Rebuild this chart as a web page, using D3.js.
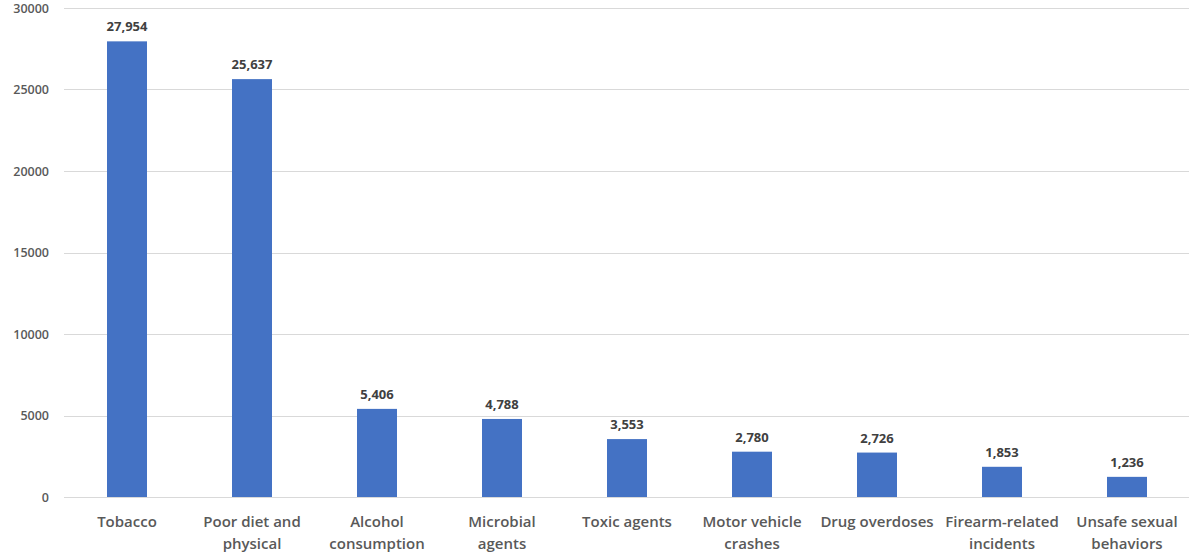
<!DOCTYPE html>
<html><head><meta charset="utf-8">
<script src="https://cdn.jsdelivr.net/npm/d3@7"></script>
<style>body{margin:0;background:#fff}svg{display:block}</style>
</head><body><svg id="c" width="1189" height="557"></svg>
<script>
const categories = ["Tobacco","Poor diet and physical","Alcohol consumption","Microbial agents","Toxic agents","Motor vehicle crashes","Drug overdoses","Firearm-related incidents","Unsafe sexual behaviors"];
const categoryLines = [["Tobacco"],["Poor diet and","physical"],["Alcohol","consumption"],["Microbial","agents"],["Toxic agents"],["Motor vehicle","crashes"],["Drug overdoses"],["Firearm-related","incidents"],["Unsafe sexual","behaviors"]];
const values = [27954,25637,5406,4788,3553,2780,2726,1853,1236];
const yTicks = [0,5000,10000,15000,20000,25000,30000];

const svg = d3.select("#c");
const font = "'Open Sans', 'Liberation Sans', sans-serif";
const x = d3.scaleBand().domain(categories).range([64.5,1189.5]).paddingInner(0.68).paddingOuter(0.34);
const y = d3.scaleLinear().domain([0,30000]).range([497,8]);

const g = svg.append("g");
g.selectAll("line.grid").data(yTicks).join("line")
 .attr("x1",64).attr("x2",1189)
 .attr("y1",d=>Math.round(y(d))+0.5).attr("y2",d=>Math.round(y(d))+0.5)
 .attr("stroke","#d9d9d9").attr("stroke-width",1);

const yAxis = d3.axisLeft(y).tickValues(yTicks).tickSize(0).tickPadding(0).tickFormat(d3.format("d"));
const ya = svg.append("g").attr("transform","translate(49,0)").call(yAxis);
ya.select(".domain").remove();
ya.selectAll("text").attr("font-family",font).attr("font-size",12.5).attr("font-weight",600).attr("fill","#595959");

g.selectAll("rect.bar").data(values).join("rect")
 .attr("x",(d,i)=>x(categories[i])).attr("width",x.bandwidth())
 .attr("y",d=>y(d)).attr("height",d=>y(0)-y(d)).attr("fill","#4472C4");

const fmt = d3.format(",");
g.selectAll("text.val").data(values).join("text")
 .attr("x",(d,i)=>x(categories[i])+x.bandwidth()/2).attr("y",d=>y(d)-10)
 .attr("text-anchor","middle").attr("font-family",font).attr("font-size",13).attr("font-weight",700).attr("fill","#404040")
 .text(d=>fmt(d));

const xa = svg.append("g");
categories.forEach((c,i)=>{
  const cx = x(c)+x.bandwidth()/2;
  const t = xa.append("text").attr("x",cx).attr("y",527)
   .attr("text-anchor","middle").attr("font-family",font).attr("font-size",15).attr("font-weight",600).attr("fill","#595959");
  categoryLines[i].forEach((l,j)=>t.append("tspan").attr("x",cx).attr("dy",j?22:0).text(l));
});
</script></body></html>
